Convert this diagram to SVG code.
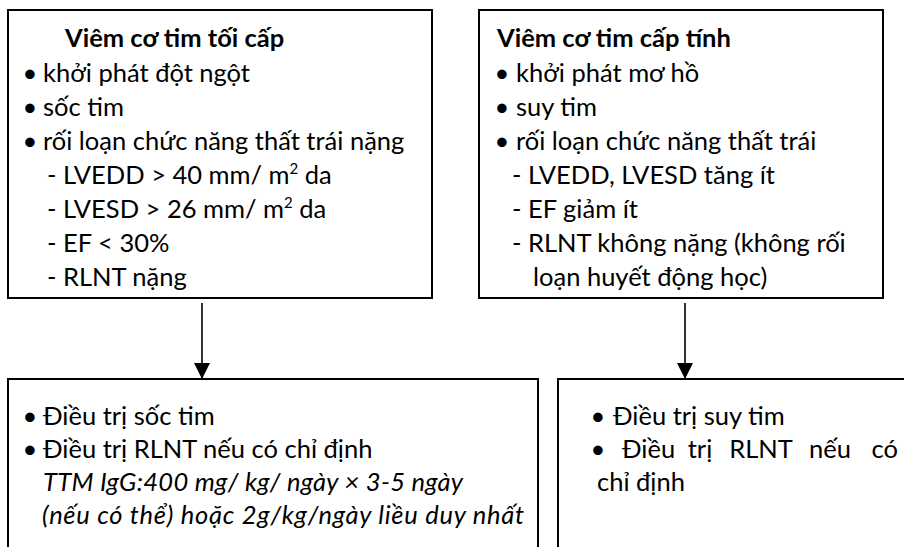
<svg xmlns="http://www.w3.org/2000/svg" width="904" height="547" viewBox="0 0 904 547">
<style>
.box{fill:#fff;stroke:#000;stroke-width:2}
text{font-family:Lato,"Open Sans","Noto Sans",sans-serif;font-size:25.5px;fill:#000}
.t{font-weight:bold}
.i{font-style:italic}
.b{text-anchor:middle}
.m{text-anchor:middle}
.e{text-anchor:end}
.sup{font-size:15px}
.con{stroke:#000;stroke-width:1.6;fill:none}
</style>
<defs>
<marker id="ah" viewBox="0 0 16 16" refX="16" refY="8" markerWidth="16" markerHeight="16" markerUnits="userSpaceOnUse" orient="auto">
<path d="M0,0 L16,8 L0,16 Z" fill="#000"/>
</marker>
</defs>
<g id="connectors">
<line class="con" x1="202" y1="303" x2="202" y2="379" marker-end="url(#ah)"/>
<line class="con" x1="685" y1="303" x2="685" y2="379" marker-end="url(#ah)"/>
</g>
<g id="node-toi-cap">
<rect class="box" x="8" y="10" width="424" height="288"/>
<text class="t" x="65" y="47">Viêm cơ tim tối cấp</text>
<text class="b" x="30" y="82">•</text><text x="43" y="82">khởi phát đột ngột</text>
<text class="b" x="30" y="116">•</text><text x="43" y="116">sốc tim</text>
<text class="b" x="30" y="150">•</text><text x="43" y="150">rối loạn chức năng thất trái nặng</text>
<text x="47" y="184">- LVEDD &gt; 40 mm/ m<tspan class="sup" dy="-10">2</tspan><tspan dy="10"> da</tspan></text>
<text x="47" y="218">- LVESD &gt; 26 mm/ m<tspan class="sup" dy="-10">2</tspan><tspan dy="10"> da</tspan></text>
<text x="47" y="252">- EF &lt; 30%</text>
<text x="47" y="286">- RLNT nặng</text>
</g>
<g id="node-cap-tinh">
<rect class="box" x="479" y="10" width="404" height="288"/>
<text class="t" x="497" y="47">Viêm cơ tim cấp tính</text>
<text class="b" x="502" y="82">•</text><text x="516" y="82">khởi phát mơ hồ</text>
<text class="b" x="502" y="116">•</text><text x="516" y="116">suy tim</text>
<text class="b" x="502" y="150">•</text><text x="516" y="150">rối loạn chức năng thất trái</text>
<text x="512" y="184">- LVEDD, LVESD tăng ít</text>
<text x="512" y="218">- EF giảm ít</text>
<text x="512" y="252">- RLNT không nặng (không rối</text>
<text x="533" y="286">loạn huyết động học)</text>
</g>
<g id="node-dieu-tri-soc">
<rect class="box" x="8" y="379" width="530" height="200"/>
<text class="b" x="30" y="425">•</text><text x="43" y="425">Điều trị sốc tim</text>
<text class="b" x="30" y="458">•</text><text x="43" y="458">Điều trị RLNT nếu có chỉ định</text>
<text class="i" x="43" y="491" textLength="420">TTM IgG:400 mg/ kg/ ngày × 3-5 ngày</text>
<text class="i" x="42" y="524" textLength="482">(nếu có thể) hoặc 2g/kg/ngày liều duy nhất</text>
</g>
<g id="node-dieu-tri-suy">
<rect class="box" x="558" y="379" width="360" height="200"/>
<text class="b" x="598" y="425">•</text><text x="613" y="425">Điều trị suy tim</text>
<text class="b" x="598" y="458">•</text>
<text x="622" y="458">Điều</text><text class="m" x="700" y="458">trị</text><text class="m" x="761" y="458">RLNT</text><text class="m" x="830" y="458">nếu</text><text class="e" x="898" y="458">có</text>
<text x="597" y="491">chỉ định</text>
</g>
</svg>
